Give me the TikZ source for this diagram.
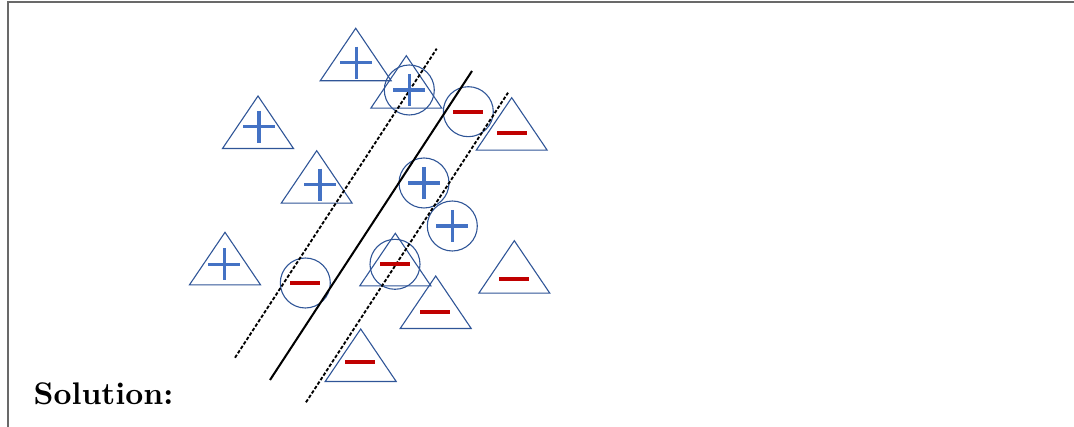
\documentclass[tikz,border=0pt]{standalone}
\usepackage{tikz}
\definecolor{posblue}{RGB}{68,114,196}
\definecolor{edgeblue}{RGB}{47,85,151}
\definecolor{negred}{RGB}{192,0,0}
\definecolor{framegray}{RGB}{105,105,105}
\usetikzlibrary{positioning}

\begin{document}
\begin{tikzpicture}[x=0.32pt, y=-0.32pt,
    tri/.style={draw=edgeblue, line width=0.35pt},
    ring/.style={draw=edgeblue, line width=0.35pt},
    posbar/.style={draw=posblue, line width=1.1pt},
    negbar/.style={draw=negred, line width=1.2pt},
    margin/.style={black, line width=0.6pt, dash pattern=on 1.1pt off 0.6pt},
    sepline/.style={black, line width=0.65pt},
    frame/.style={framegray, line width=0.5pt}
  ]
  \useasboundingbox (0,0) rectangle (1074,427);
  \draw[frame] (8,427) -- (8,2) -- (1074,2);

  % triangles, given by apex
  \foreach \x/\y in {355.7/28.3, 406.3/55.7, 258/96, 511.7/97.7, 316.7/150.7,
                     225/232.3, 395.3/233.3, 435.7/276, 514.3/240.7, 360.7/329}
    \draw[tri] (\x,\y) -- (\x+35.5,\y+52.5) -- (\x-35.5,\y+52.5) -- cycle;

  % circles
  \foreach \x/\y in {409.3/90, 468.3/111.7, 424/183, 452.3/226, 395/264.3, 305.3/283}
    \draw[ring] (\x,\y) circle[radius=8pt];

  % separating line and margins
  \coordinate (mL1) at (235,357.7);
  \coordinate (mL2) at (436.7,48.7);
  \coordinate (s1)  at (270,380);
  \coordinate (s2)  at (472,71);
  \coordinate (mR1) at (306,402.3);
  \coordinate (mR2) at (508,92.7);
  \draw[margin]  (mL1) -- (mL2);
  \draw[sepline] (s1)  -- (s2);
  \draw[margin]  (mR1) -- (mR2);

  % signs
  \foreach \x/\y in {356.3/62.7, 409.3/90, 259/126.7, 320/184.7, 424/183,
                     452.3/226, 224.3/264.3}
    \draw[posbar] (\x-16,\y) -- (\x+16,\y) (\x,\y-16) -- (\x,\y+16);
  \foreach \x/\y in {468.3/111.7, 512/132.7, 305.3/283, 395/264.3,
                     435/312, 514/279, 360/362}
    \draw[negbar] (\x-15,\y) -- (\x+15,\y);

  \node[anchor=base west, font=\bfseries, inner sep=0] (sol) at (33,404) {Solution:};
\end{tikzpicture}
\end{document}
